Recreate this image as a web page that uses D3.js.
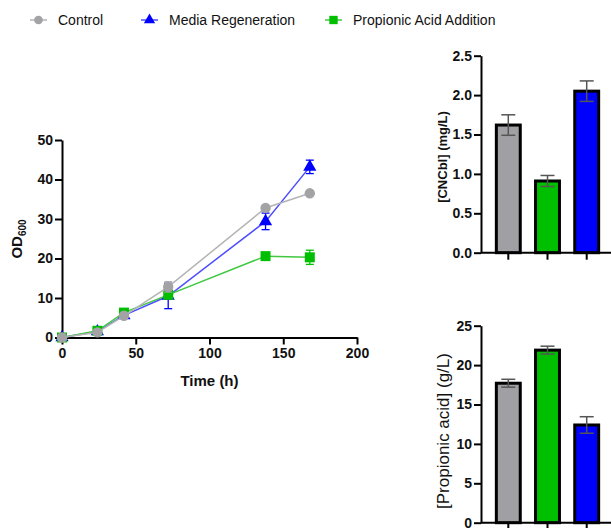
<!DOCTYPE html>
<html><head><meta charset="utf-8">
<script src="https://cdn.jsdelivr.net/npm/d3@7"></script>
<style>body{margin:0;background:#fff}svg{display:block;font-family:"Liberation Sans",Arial,sans-serif}</style>
</head><body>
<svg id="c" width="611" height="528"></svg>
<script>
const seriesNames = ["Control", "Media Regeneration", "Propionic Acid Addition"];
const seriesColors = ["#a3a3a6", "#0000ff", "#00bf00"];
const lineColors = ["#b4b4b6", "#4d4dff", "#40c840"];
const times = [0, 24, 42, 72, 138, 168];
const controlOD = [0, 1.3, 5.5, 12.8, 32.8, 36.5];
const controlErr = [0, 0.3, 0.4, 1.3, 0.3, 0.3];
const mediaOD = [0, 1.5, 5.6, 10.5, 29.4, 43.2];
const mediaErr = [0, 0.3, 0.5, 3.2, 2.1, 1.7];
const propOD = [0, 1.7, 6.3, 10.8, 20.6, 20.3];
const propErr = [0, 0.3, 0.4, 0.6, 0.3, 1.8];
const xTicks = [0, 50, 100, 150, 200];
const yTicksOD = [0, 10, 20, 30, 40, 50];
const barGroups = ["Control", "Propionic Acid Addition", "Media Regeneration"];
const barColors = ["#a09fa4", "#00bf00", "#0000ff"];
const cncblValues = [1.62, 0.91, 2.05];
const cncblErr = [0.13, 0.07, 0.13];
const cncblTicks = [0, 0.5, 1.0, 1.5, 2.0, 2.5];
const propValues = [17.7, 21.9, 12.4];
const propErrBar = [0.5, 0.5, 1.05];
const propTicks = [0, 5, 10, 15, 20, 25];

const svg = d3.select("#c");

function styleAxis(g, fs) {
  g.selectAll(".domain").attr("stroke", "#000").attr("stroke-width", 2);
  g.selectAll(".tick line").attr("stroke", "#000").attr("stroke-width", 2);
  g.selectAll(".tick text").attr("fill", "#111").attr("font-size", fs).attr("font-weight", "bold")
    .attr("font-family", "Liberation Sans, Arial, sans-serif");
}

// ---- Legend ----
const legX = [30, 141, 325];
const legend = svg.append("g");
seriesNames.forEach((n, i) => {
  const g = legend.append("g").attr("transform", `translate(${legX[i]},20)`);
  g.append("line").attr("x1", 0).attr("x2", 17).attr("y1", 0).attr("y2", 0)
    .attr("stroke", lineColors[i]).attr("stroke-width", 1.5);
  const sym = [d3.symbolCircle, d3.symbolTriangle, d3.symbolSquare][i];
  const sz = [60, 55, 70][i];
  g.append("path").attr("d", d3.symbol(sym, sz)()).attr("transform", "translate(8.5,0)")
    .attr("fill", seriesColors[i]);
  g.append("text").attr("x", 28).attr("y", 5).attr("font-size", 14).attr("fill", "#111").text(n);
});

// ---- Line chart ----
const x = d3.scaleLinear().domain([0, 200]).range([62, 357]);
const y = d3.scaleLinear().domain([0, 50]).range([337.5, 140]);
const gx = svg.append("g").attr("transform", "translate(0,337.5)")
  .call(d3.axisBottom(x).tickValues(xTicks).tickSize(7).tickSizeOuter(0).tickPadding(4));
styleAxis(gx, 14);
const gy = svg.append("g").attr("transform", "translate(62,0)")
  .call(d3.axisLeft(y).tickValues(yTicksOD).tickSize(7).tickSizeOuter(0).tickPadding(2));
styleAxis(gy, 14);
svg.append("text").attr("x", x(100)).attr("y", 386).attr("text-anchor", "middle")
  .attr("font-size", 15).attr("font-weight", "bold").attr("fill", "#111").text("Time (h)");
const odLab = svg.append("text").attr("transform", "translate(22,239) rotate(-90)")
  .attr("text-anchor", "middle").attr("font-size", 15).attr("font-weight", "bold").attr("fill", "#111");
odLab.append("tspan").text("OD");
odLab.append("tspan").attr("font-size", 10).attr("dy", 4).text("600");

const series = [
  {vals: mediaOD, err: mediaErr, i: 1, sym: d3.symbolTriangle, size: 75},
  {vals: propOD, err: propErr, i: 2, sym: d3.symbolSquare, size: 100},
  {vals: controlOD, err: controlErr, i: 0, sym: d3.symbolCircle, size: 85},
];
const line = d3.line().x(d => x(d[0])).y(d => y(d[1]));
series.forEach(s => {
  const pts = times.map((t, k) => [t, s.vals[k], s.err[k]]);
  const g = svg.append("g");
  g.append("path").attr("d", line(pts)).attr("fill", "none")
    .attr("stroke", lineColors[s.i]).attr("stroke-width", 1.5);
  pts.forEach(p => {
    if (p[2] > 0.5) {
      const eb = g.append("g").attr("stroke", seriesColors[s.i]).attr("stroke-width", 1.3);
      eb.append("line").attr("x1", x(p[0])).attr("x2", x(p[0])).attr("y1", y(p[1] - p[2])).attr("y2", y(p[1] + p[2]));
      [p[1] - p[2], p[1] + p[2]].forEach(v => eb.append("line").attr("x1", x(p[0]) - 4).attr("x2", x(p[0]) + 4)
        .attr("y1", y(v)).attr("y2", y(v)));
    }
    g.append("path").attr("d", d3.symbol(s.sym, s.size)())
      .attr("transform", `translate(${x(p[0])},${y(p[1])})`).attr("fill", seriesColors[s.i]);
  });
});

// ---- Bar charts ----
function barChart(top, bottom, max, vals, errs, ticks, fmt, label, labelStyle) {
  const yb = d3.scaleLinear().domain([0, max]).range([bottom, top]);
  const xb = d3.scaleBand().domain(barGroups).range([488.5, 606.5]).paddingInner(0.39).paddingOuter(0.2);
  const g = svg.append("g");
  barGroups.forEach((name, k) => {
    const v = vals[k];
    g.append("rect").attr("x", xb(name)).attr("width", xb.bandwidth()).attr("y", yb(v))
      .attr("height", yb(0) - yb(v)).attr("fill", barColors[k]).attr("stroke", "#000").attr("stroke-width", 3);
    const cx = xb(name) + xb.bandwidth() / 2;
    const eb = g.append("g").attr("stroke", "#555").attr("stroke-width", 1.5);
    eb.append("line").attr("x1", cx).attr("x2", cx).attr("y1", yb(v - errs[k])).attr("y2", yb(v + errs[k]));
    [v - errs[k], v + errs[k]].forEach(e => eb.append("line").attr("x1", cx - 7).attr("x2", cx + 7)
      .attr("y1", yb(e)).attr("y2", yb(e)));
  });
  const ax = svg.append("g").attr("transform", `translate(0,${bottom})`)
    .call(d3.axisBottom(xb).tickFormat("").tickSize(7).tickSizeOuter(0));
  styleAxis(ax, 14);
  ax.select(".domain").attr("d", `M481,0H612`);
  const ay = svg.append("g").attr("transform", "translate(481,0)")
    .call(d3.axisLeft(yb).tickValues(ticks).tickFormat(fmt).tickSize(7).tickSizeOuter(0).tickPadding(2));
  styleAxis(ay, 14);
  svg.append("text").attr("transform", `translate(${labelStyle.x},${labelStyle.y}) rotate(-90)`)
    .attr("text-anchor", "middle").attr("font-size", labelStyle.fs).attr("font-weight", labelStyle.fw)
    .attr("fill", "#111").text(label);
}
barChart(55.7, 252.7, 2.5, cncblValues, cncblErr, cncblTicks, d3.format(".1f"), "[CNCbl] (mg/L)",
  {x: 447, y: 157, fs: 13, fw: "bold"});
barChart(325.7, 522.7, 25, propValues, propErrBar, propTicks, d3.format("d"), "[Propionic acid] (g/L)",
  {x: 449, y: 431, fs: 17, fw: "normal"});
</script>
</body></html>
